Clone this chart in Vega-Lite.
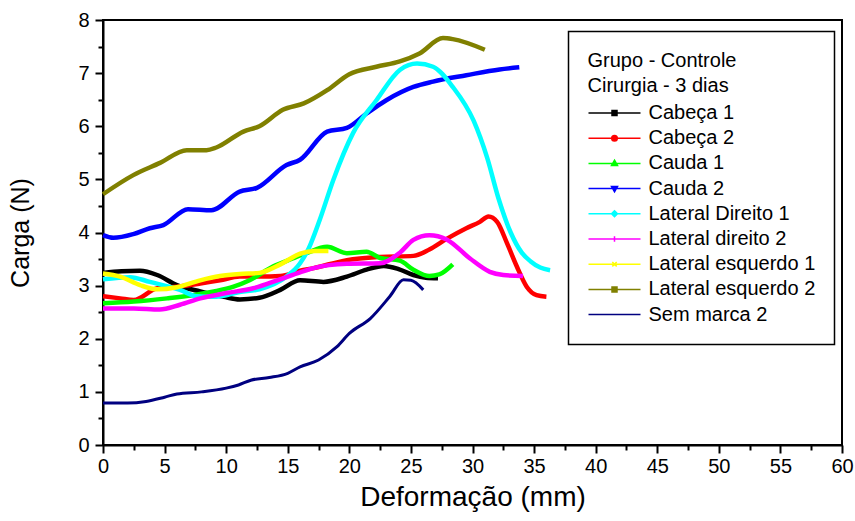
{
  "$schema": "https://vega.github.io/schema/vega-lite/v6.json",
  "width": 739,
  "height": 425,
  "autosize": {"type": "none"},
  "padding": {"left": 103, "top": 20, "right": 13, "bottom": 76},
  "background": "white",
  "config": {
    "font": "Liberation Sans",
    "view": {"stroke": "black", "strokeWidth": 2}
  },
  "data": {
    "values": [
      {"serie": "Cabeça 1", "deformacao": 0, "carga": 3.24},
      {"serie": "Cabeça 1", "deformacao": 1.5, "carga": 3.27},
      {"serie": "Cabeça 1", "deformacao": 3, "carga": 3.28},
      {"serie": "Cabeça 1", "deformacao": 4.4, "carga": 3.2},
      {"serie": "Cabeça 1", "deformacao": 6, "carga": 3.01},
      {"serie": "Cabeça 1", "deformacao": 7.9, "carga": 2.89},
      {"serie": "Cabeça 1", "deformacao": 9.8, "carga": 2.79},
      {"serie": "Cabeça 1", "deformacao": 11.1, "carga": 2.74},
      {"serie": "Cabeça 1", "deformacao": 12.7, "carga": 2.77},
      {"serie": "Cabeça 1", "deformacao": 14.4, "carga": 2.92},
      {"serie": "Cabeça 1", "deformacao": 16, "carga": 3.1},
      {"serie": "Cabeça 1", "deformacao": 17.9, "carga": 3.07},
      {"serie": "Cabeça 1", "deformacao": 19.8, "carga": 3.17},
      {"serie": "Cabeça 1", "deformacao": 21.4, "carga": 3.3},
      {"serie": "Cabeça 1", "deformacao": 22.8, "carga": 3.37},
      {"serie": "Cabeça 1", "deformacao": 24.0, "carga": 3.31},
      {"serie": "Cabeça 1", "deformacao": 25.2, "carga": 3.2},
      {"serie": "Cabeça 1", "deformacao": 26.2, "carga": 3.15},
      {"serie": "Cabeça 1", "deformacao": 27.2, "carga": 3.14},

      {"serie": "Cabeça 2", "deformacao": 0, "carga": 2.8},
      {"serie": "Cabeça 2", "deformacao": 1.4, "carga": 2.76},
      {"serie": "Cabeça 2", "deformacao": 2.5, "carga": 2.73},
      {"serie": "Cabeça 2", "deformacao": 4.4, "carga": 2.95},
      {"serie": "Cabeça 2", "deformacao": 6, "carga": 2.98},
      {"serie": "Cabeça 2", "deformacao": 7.9, "carga": 3.04},
      {"serie": "Cabeça 2", "deformacao": 9.5, "carga": 3.1},
      {"serie": "Cabeça 2", "deformacao": 11.1, "carga": 3.17},
      {"serie": "Cabeça 2", "deformacao": 12.7, "carga": 3.17},
      {"serie": "Cabeça 2", "deformacao": 14.4, "carga": 3.18},
      {"serie": "Cabeça 2", "deformacao": 16, "carga": 3.28},
      {"serie": "Cabeça 2", "deformacao": 17.1, "carga": 3.33},
      {"serie": "Cabeça 2", "deformacao": 19.8, "carga": 3.48},
      {"serie": "Cabeça 2", "deformacao": 22.5, "carga": 3.54},
      {"serie": "Cabeça 2", "deformacao": 25.2, "carga": 3.56},
      {"serie": "Cabeça 2", "deformacao": 26.5, "carga": 3.68},
      {"serie": "Cabeça 2", "deformacao": 27.9, "carga": 3.88},
      {"serie": "Cabeça 2", "deformacao": 29.5, "carga": 4.08},
      {"serie": "Cabeça 2", "deformacao": 30.6, "carga": 4.2},
      {"serie": "Cabeça 2", "deformacao": 31.3, "carga": 4.3},
      {"serie": "Cabeça 2", "deformacao": 32.0, "carga": 4.2},
      {"serie": "Cabeça 2", "deformacao": 32.8, "carga": 3.8},
      {"serie": "Cabeça 2", "deformacao": 33.6, "carga": 3.36},
      {"serie": "Cabeça 2", "deformacao": 34.4, "carga": 2.98},
      {"serie": "Cabeça 2", "deformacao": 35.2, "carga": 2.82},
      {"serie": "Cabeça 2", "deformacao": 36.0, "carga": 2.79},

      {"serie": "Cauda 1", "deformacao": 0, "carga": 2.67},
      {"serie": "Cauda 1", "deformacao": 2.5, "carga": 2.7},
      {"serie": "Cauda 1", "deformacao": 5.2, "carga": 2.76},
      {"serie": "Cauda 1", "deformacao": 7.3, "carga": 2.82},
      {"serie": "Cauda 1", "deformacao": 9, "carga": 2.89},
      {"serie": "Cauda 1", "deformacao": 10.6, "carga": 2.98},
      {"serie": "Cauda 1", "deformacao": 11.9, "carga": 3.1},
      {"serie": "Cauda 1", "deformacao": 13.8, "carga": 3.36},
      {"serie": "Cauda 1", "deformacao": 15.4, "carga": 3.51},
      {"serie": "Cauda 1", "deformacao": 16.5, "carga": 3.61},
      {"serie": "Cauda 1", "deformacao": 18.2, "carga": 3.73},
      {"serie": "Cauda 1", "deformacao": 19.8, "carga": 3.61},
      {"serie": "Cauda 1", "deformacao": 21.4, "carga": 3.64},
      {"serie": "Cauda 1", "deformacao": 22.5, "carga": 3.52},
      {"serie": "Cauda 1", "deformacao": 24.1, "carga": 3.47},
      {"serie": "Cauda 1", "deformacao": 25.2, "carga": 3.3},
      {"serie": "Cauda 1", "deformacao": 26.5, "carga": 3.18},
      {"serie": "Cauda 1", "deformacao": 27.3, "carga": 3.21},
      {"serie": "Cauda 1", "deformacao": 28.4, "carga": 3.4},

      {"serie": "Cauda 2", "deformacao": 0, "carga": 3.95},
      {"serie": "Cauda 2", "deformacao": 0.84, "carga": 3.9},
      {"serie": "Cauda 2", "deformacao": 2.46, "carga": 3.97},
      {"serie": "Cauda 2", "deformacao": 3.8, "carga": 4.08},
      {"serie": "Cauda 2", "deformacao": 4.9, "carga": 4.14},
      {"serie": "Cauda 2", "deformacao": 6.9, "carga": 4.44},
      {"serie": "Cauda 2", "deformacao": 8.8, "carga": 4.42},
      {"serie": "Cauda 2", "deformacao": 11.1, "carga": 4.77},
      {"serie": "Cauda 2", "deformacao": 12.5, "carga": 4.84},
      {"serie": "Cauda 2", "deformacao": 14.9, "carga": 5.27},
      {"serie": "Cauda 2", "deformacao": 16.0, "carga": 5.37},
      {"serie": "Cauda 2", "deformacao": 18.2, "carga": 5.9},
      {"serie": "Cauda 2", "deformacao": 19.8, "carga": 5.97},
      {"serie": "Cauda 2", "deformacao": 21.4, "carga": 6.24},
      {"serie": "Cauda 2", "deformacao": 23.0, "carga": 6.49},
      {"serie": "Cauda 2", "deformacao": 25.2, "carga": 6.74},
      {"serie": "Cauda 2", "deformacao": 26.8, "carga": 6.84},
      {"serie": "Cauda 2", "deformacao": 29.5, "carga": 6.96},
      {"serie": "Cauda 2", "deformacao": 32.2, "carga": 7.07},
      {"serie": "Cauda 2", "deformacao": 33.8, "carga": 7.11},

      {"serie": "Lateral Direito 1", "deformacao": 0, "carga": 3.12},
      {"serie": "Lateral Direito 1", "deformacao": 2.2, "carga": 3.16},
      {"serie": "Lateral Direito 1", "deformacao": 3.8, "carga": 3.07},
      {"serie": "Lateral Direito 1", "deformacao": 6.25, "carga": 2.92},
      {"serie": "Lateral Direito 1", "deformacao": 7.6, "carga": 2.8},
      {"serie": "Lateral Direito 1", "deformacao": 9.2, "carga": 2.79},
      {"serie": "Lateral Direito 1", "deformacao": 11.1, "carga": 2.88},
      {"serie": "Lateral Direito 1", "deformacao": 12.7, "carga": 2.93},
      {"serie": "Lateral Direito 1", "deformacao": 14.9, "carga": 3.17},
      {"serie": "Lateral Direito 1", "deformacao": 16.0, "carga": 3.42},
      {"serie": "Lateral Direito 1", "deformacao": 16.7, "carga": 3.7},
      {"serie": "Lateral Direito 1", "deformacao": 17.6, "carga": 4.24},
      {"serie": "Lateral Direito 1", "deformacao": 18.7, "carga": 4.99},
      {"serie": "Lateral Direito 1", "deformacao": 20.3, "carga": 5.87},
      {"serie": "Lateral Direito 1", "deformacao": 22.2, "carga": 6.49},
      {"serie": "Lateral Direito 1", "deformacao": 24.1, "carga": 7.06},
      {"serie": "Lateral Direito 1", "deformacao": 25.5, "carga": 7.18},
      {"serie": "Lateral Direito 1", "deformacao": 26.8, "carga": 7.12},
      {"serie": "Lateral Direito 1", "deformacao": 28.4, "carga": 6.74},
      {"serie": "Lateral Direito 1", "deformacao": 30.1, "carga": 6.1},
      {"serie": "Lateral Direito 1", "deformacao": 31.2, "carga": 5.4},
      {"serie": "Lateral Direito 1", "deformacao": 32.1, "carga": 4.65},
      {"serie": "Lateral Direito 1", "deformacao": 33.1, "carga": 4.0},
      {"serie": "Lateral Direito 1", "deformacao": 34.0, "carga": 3.62},
      {"serie": "Lateral Direito 1", "deformacao": 34.7, "carga": 3.46},
      {"serie": "Lateral Direito 1", "deformacao": 35.5, "carga": 3.34},
      {"serie": "Lateral Direito 1", "deformacao": 36.3, "carga": 3.29},

      {"serie": "Lateral direito 2", "deformacao": 0, "carga": 2.57},
      {"serie": "Lateral direito 2", "deformacao": 2.5, "carga": 2.57},
      {"serie": "Lateral direito 2", "deformacao": 4.6, "carga": 2.55},
      {"serie": "Lateral direito 2", "deformacao": 6.25, "carga": 2.64},
      {"serie": "Lateral direito 2", "deformacao": 7.9, "carga": 2.76},
      {"serie": "Lateral direito 2", "deformacao": 10, "carga": 2.86},
      {"serie": "Lateral direito 2", "deformacao": 12.2, "carga": 2.95},
      {"serie": "Lateral direito 2", "deformacao": 14.4, "carga": 3.12},
      {"serie": "Lateral direito 2", "deformacao": 16, "carga": 3.25},
      {"serie": "Lateral direito 2", "deformacao": 17.1, "carga": 3.33},
      {"serie": "Lateral direito 2", "deformacao": 19.8, "carga": 3.41},
      {"serie": "Lateral direito 2", "deformacao": 22.5, "carga": 3.42},
      {"serie": "Lateral direito 2", "deformacao": 24.1, "carga": 3.62},
      {"serie": "Lateral direito 2", "deformacao": 25.2, "carga": 3.86},
      {"serie": "Lateral direito 2", "deformacao": 26.5, "carga": 3.95},
      {"serie": "Lateral direito 2", "deformacao": 27.9, "carga": 3.87},
      {"serie": "Lateral direito 2", "deformacao": 29.8, "carga": 3.51},
      {"serie": "Lateral direito 2", "deformacao": 31.4, "carga": 3.26},
      {"serie": "Lateral direito 2", "deformacao": 32.5, "carga": 3.2},
      {"serie": "Lateral direito 2", "deformacao": 34.1, "carga": 3.18},

      {"serie": "Lateral esquerdo 1", "deformacao": 0, "carga": 3.23},
      {"serie": "Lateral esquerdo 1", "deformacao": 1.4, "carga": 3.17},
      {"serie": "Lateral esquerdo 1", "deformacao": 3, "carga": 3.01},
      {"serie": "Lateral esquerdo 1", "deformacao": 4.4, "carga": 2.93},
      {"serie": "Lateral esquerdo 1", "deformacao": 6, "carga": 2.97},
      {"serie": "Lateral esquerdo 1", "deformacao": 7.9, "carga": 3.1},
      {"serie": "Lateral esquerdo 1", "deformacao": 9.5, "carga": 3.18},
      {"serie": "Lateral esquerdo 1", "deformacao": 11.1, "carga": 3.22},
      {"serie": "Lateral esquerdo 1", "deformacao": 12.7, "carga": 3.24},
      {"serie": "Lateral esquerdo 1", "deformacao": 14.4, "carga": 3.4},
      {"serie": "Lateral esquerdo 1", "deformacao": 16, "carga": 3.6},
      {"serie": "Lateral esquerdo 1", "deformacao": 17.2, "carga": 3.65},
      {"serie": "Lateral esquerdo 1", "deformacao": 18.3, "carga": 3.65},

      {"serie": "Lateral esquerdo 2", "deformacao": 0, "carga": 4.72},
      {"serie": "Lateral esquerdo 2", "deformacao": 2.46, "carga": 5.08},
      {"serie": "Lateral esquerdo 2", "deformacao": 4.63, "carga": 5.31},
      {"serie": "Lateral esquerdo 2", "deformacao": 6.8, "carga": 5.55},
      {"serie": "Lateral esquerdo 2", "deformacao": 8.4, "carga": 5.55},
      {"serie": "Lateral esquerdo 2", "deformacao": 9.2, "carga": 5.6},
      {"serie": "Lateral esquerdo 2", "deformacao": 11.4, "carga": 5.9},
      {"serie": "Lateral esquerdo 2", "deformacao": 12.7, "carga": 6.0},
      {"serie": "Lateral esquerdo 2", "deformacao": 14.6, "carga": 6.31},
      {"serie": "Lateral esquerdo 2", "deformacao": 16.3, "carga": 6.43},
      {"serie": "Lateral esquerdo 2", "deformacao": 18.2, "carga": 6.68},
      {"serie": "Lateral esquerdo 2", "deformacao": 20.0, "carga": 6.98},
      {"serie": "Lateral esquerdo 2", "deformacao": 22.2, "carga": 7.12},
      {"serie": "Lateral esquerdo 2", "deformacao": 24.1, "carga": 7.22},
      {"serie": "Lateral esquerdo 2", "deformacao": 25.7, "carga": 7.37},
      {"serie": "Lateral esquerdo 2", "deformacao": 27.6, "carga": 7.66},
      {"serie": "Lateral esquerdo 2", "deformacao": 28.4, "carga": 7.64},
      {"serie": "Lateral esquerdo 2", "deformacao": 31.0, "carga": 7.44},

      {"serie": "Sem marca 2", "deformacao": 0, "carga": 0.79},
      {"serie": "Sem marca 2", "deformacao": 2, "carga": 0.79},
      {"serie": "Sem marca 2", "deformacao": 3.5, "carga": 0.82},
      {"serie": "Sem marca 2", "deformacao": 5, "carga": 0.9},
      {"serie": "Sem marca 2", "deformacao": 6, "carga": 0.96},
      {"serie": "Sem marca 2", "deformacao": 8, "carga": 1.0},
      {"serie": "Sem marca 2", "deformacao": 10, "carga": 1.07},
      {"serie": "Sem marca 2", "deformacao": 11, "carga": 1.13},
      {"serie": "Sem marca 2", "deformacao": 12, "carga": 1.22},
      {"serie": "Sem marca 2", "deformacao": 13.5, "carga": 1.27},
      {"serie": "Sem marca 2", "deformacao": 15, "carga": 1.35},
      {"serie": "Sem marca 2", "deformacao": 16, "carga": 1.47},
      {"serie": "Sem marca 2", "deformacao": 17.5, "carga": 1.6},
      {"serie": "Sem marca 2", "deformacao": 19, "carga": 1.85},
      {"serie": "Sem marca 2", "deformacao": 20, "carga": 2.1},
      {"serie": "Sem marca 2", "deformacao": 21.7, "carga": 2.38},
      {"serie": "Sem marca 2", "deformacao": 23.3, "carga": 2.8},
      {"serie": "Sem marca 2", "deformacao": 24.4, "carga": 3.11},
      {"serie": "Sem marca 2", "deformacao": 25, "carga": 3.1},
      {"serie": "Sem marca 2", "deformacao": 26, "carga": 2.92}
    ]
  },
  "mark": {"type": "line", "interpolate": "monotone", "strokeJoin": "round"},
  "encoding": {
    "x": {
      "field": "deformacao",
      "type": "quantitative",
      "scale": {"domain": [0, 60], "nice": false, "zero": false},
      "axis": {
        "title": "Deformação (mm)",
        "values": [0, 2.5, 5, 7.5, 10, 12.5, 15, 17.5, 20, 22.5, 25, 27.5, 30, 32.5, 35, 37.5, 40, 42.5, 45, 47.5, 50, 52.5, 55, 57.5, 60],
        "format": "~g",
        "labelExpr": "datum.value % 5 === 0 ? datum.label : ''",
        "grid": false,
        "domainColor": "black",
        "domainWidth": 2,
        "tickColor": "black",
        "tickWidth": 2,
        "tickSize": {"condition": {"test": "datum.value % 5 === 0", "value": 8}, "value": 5},
        "labelFont": "Liberation Sans",
        "labelFontSize": 20,
        "labelColor": "black",
        "labelPadding": 3,
        "labelFlush": false,
        "labelOverlap": false,
        "titleFont": "Liberation Sans",
        "titleFontSize": 28,
        "titleFontWeight": "normal",
        "titleColor": "black",
        "titlePadding": 7
      }
    },
    "y": {
      "field": "carga",
      "type": "quantitative",
      "scale": {"domain": [0, 8], "nice": false},
      "axis": {
        "title": "Carga (N)",
        "values": [0, 0.5, 1, 1.5, 2, 2.5, 3, 3.5, 4, 4.5, 5, 5.5, 6, 6.5, 7, 7.5, 8],
        "format": "~g",
        "labelExpr": "datum.value % 1 === 0 ? datum.label : ''",
        "grid": false,
        "domainColor": "black",
        "domainWidth": 2,
        "tickColor": "black",
        "tickWidth": 2,
        "tickSize": {"condition": {"test": "datum.value % 1 === 0", "value": 8}, "value": 5},
        "labelFont": "Liberation Sans",
        "labelFontSize": 20,
        "labelColor": "black",
        "labelPadding": 6,
        "labelFlush": false,
        "labelOverlap": false,
        "titleFont": "Liberation Sans",
        "titleFontSize": 25,
        "titleFontWeight": "normal",
        "titleColor": "black",
        "titlePadding": 44
      }
    },
    "color": {
      "field": "serie",
      "type": "nominal",
      "sort": null,
      "scale": {
        "domain": ["Cabeça 1", "Cabeça 2", "Cauda 1", "Cauda 2", "Lateral Direito 1", "Lateral direito 2", "Lateral esquerdo 1", "Lateral esquerdo 2", "Sem marca 2"],
        "range": ["#000000", "#ff0000", "#00ff00", "#0000ff", "#00ffff", "#ff00ff", "#ffff00", "#808000", "#000080"]
      },
      "legend": {
        "title": ["Grupo - Controle", "Cirurgia - 3 dias"],
        "orient": "none",
        "legendX": 465.5,
        "legendY": 11.5,
        "padding": 19,
        "strokeColor": "black",
        "fillColor": "white",
        "cornerRadius": 0,
        "titleFont": "Liberation Sans",
        "titleFontSize": 20,
        "titleFontWeight": "normal",
        "titleColor": "black",
        "titleLineHeight": 25,
        "titlePadding": 6.5,
        "labelFont": "Liberation Sans",
        "labelFontSize": 20,
        "labelColor": "black",
        "labelOffset": 39,
        "labelLimit": 400,
        "rowPadding": 4.2,
        "symbolSize": 400,
        "symbolStrokeWidth": 1.5,
        "encode": {
          "legend": {"update": {"strokeWidth": {"value": 1.5}}},
          "symbols": {
            "update": {
              "shape": {"signal": "['M-1,0H4.2M1.35,-0.25H1.85V0.25H1.35Z', 'M-1,0H4.2M1.88,0A0.28,0.28,0,1,1,1.32,0A0.28,0.28,0,1,1,1.88,0Z', 'M-1,0H4.2M1.6,-0.32L1.9,0.2H1.3Z', 'M-1,0H4.2M1.6,0.32L1.9,-0.2H1.3Z', 'M-1,0H4.2M1.6,-0.3L1.9,0L1.6,0.3L1.3,0Z', 'M-1,0H4.2M1.6,-0.28V0.28', 'M-1,0H4.2M1.38,-0.22L1.82,0.22M1.38,0.22L1.82,-0.22', 'M-1,0H4.2M1.35,-0.25H1.85V0.25H1.35ZM1.35,-0.25L1.85,0.25M1.35,0.25L1.85,-0.25', 'M-1,0H4.2'][indexof(['Cabeça 1', 'Cabeça 2', 'Cauda 1', 'Cauda 2', 'Lateral Direito 1', 'Lateral direito 2', 'Lateral esquerdo 1', 'Lateral esquerdo 2', 'Sem marca 2'], datum.value)]"},
              "fill": {"scale": "color", "field": "value"}
            }
          }
        }
      }
    },
    "strokeWidth": {
      "condition": {"test": "datum.serie === 'Sem marca 2'", "value": 3},
      "value": 4.5
    }
  }
}
